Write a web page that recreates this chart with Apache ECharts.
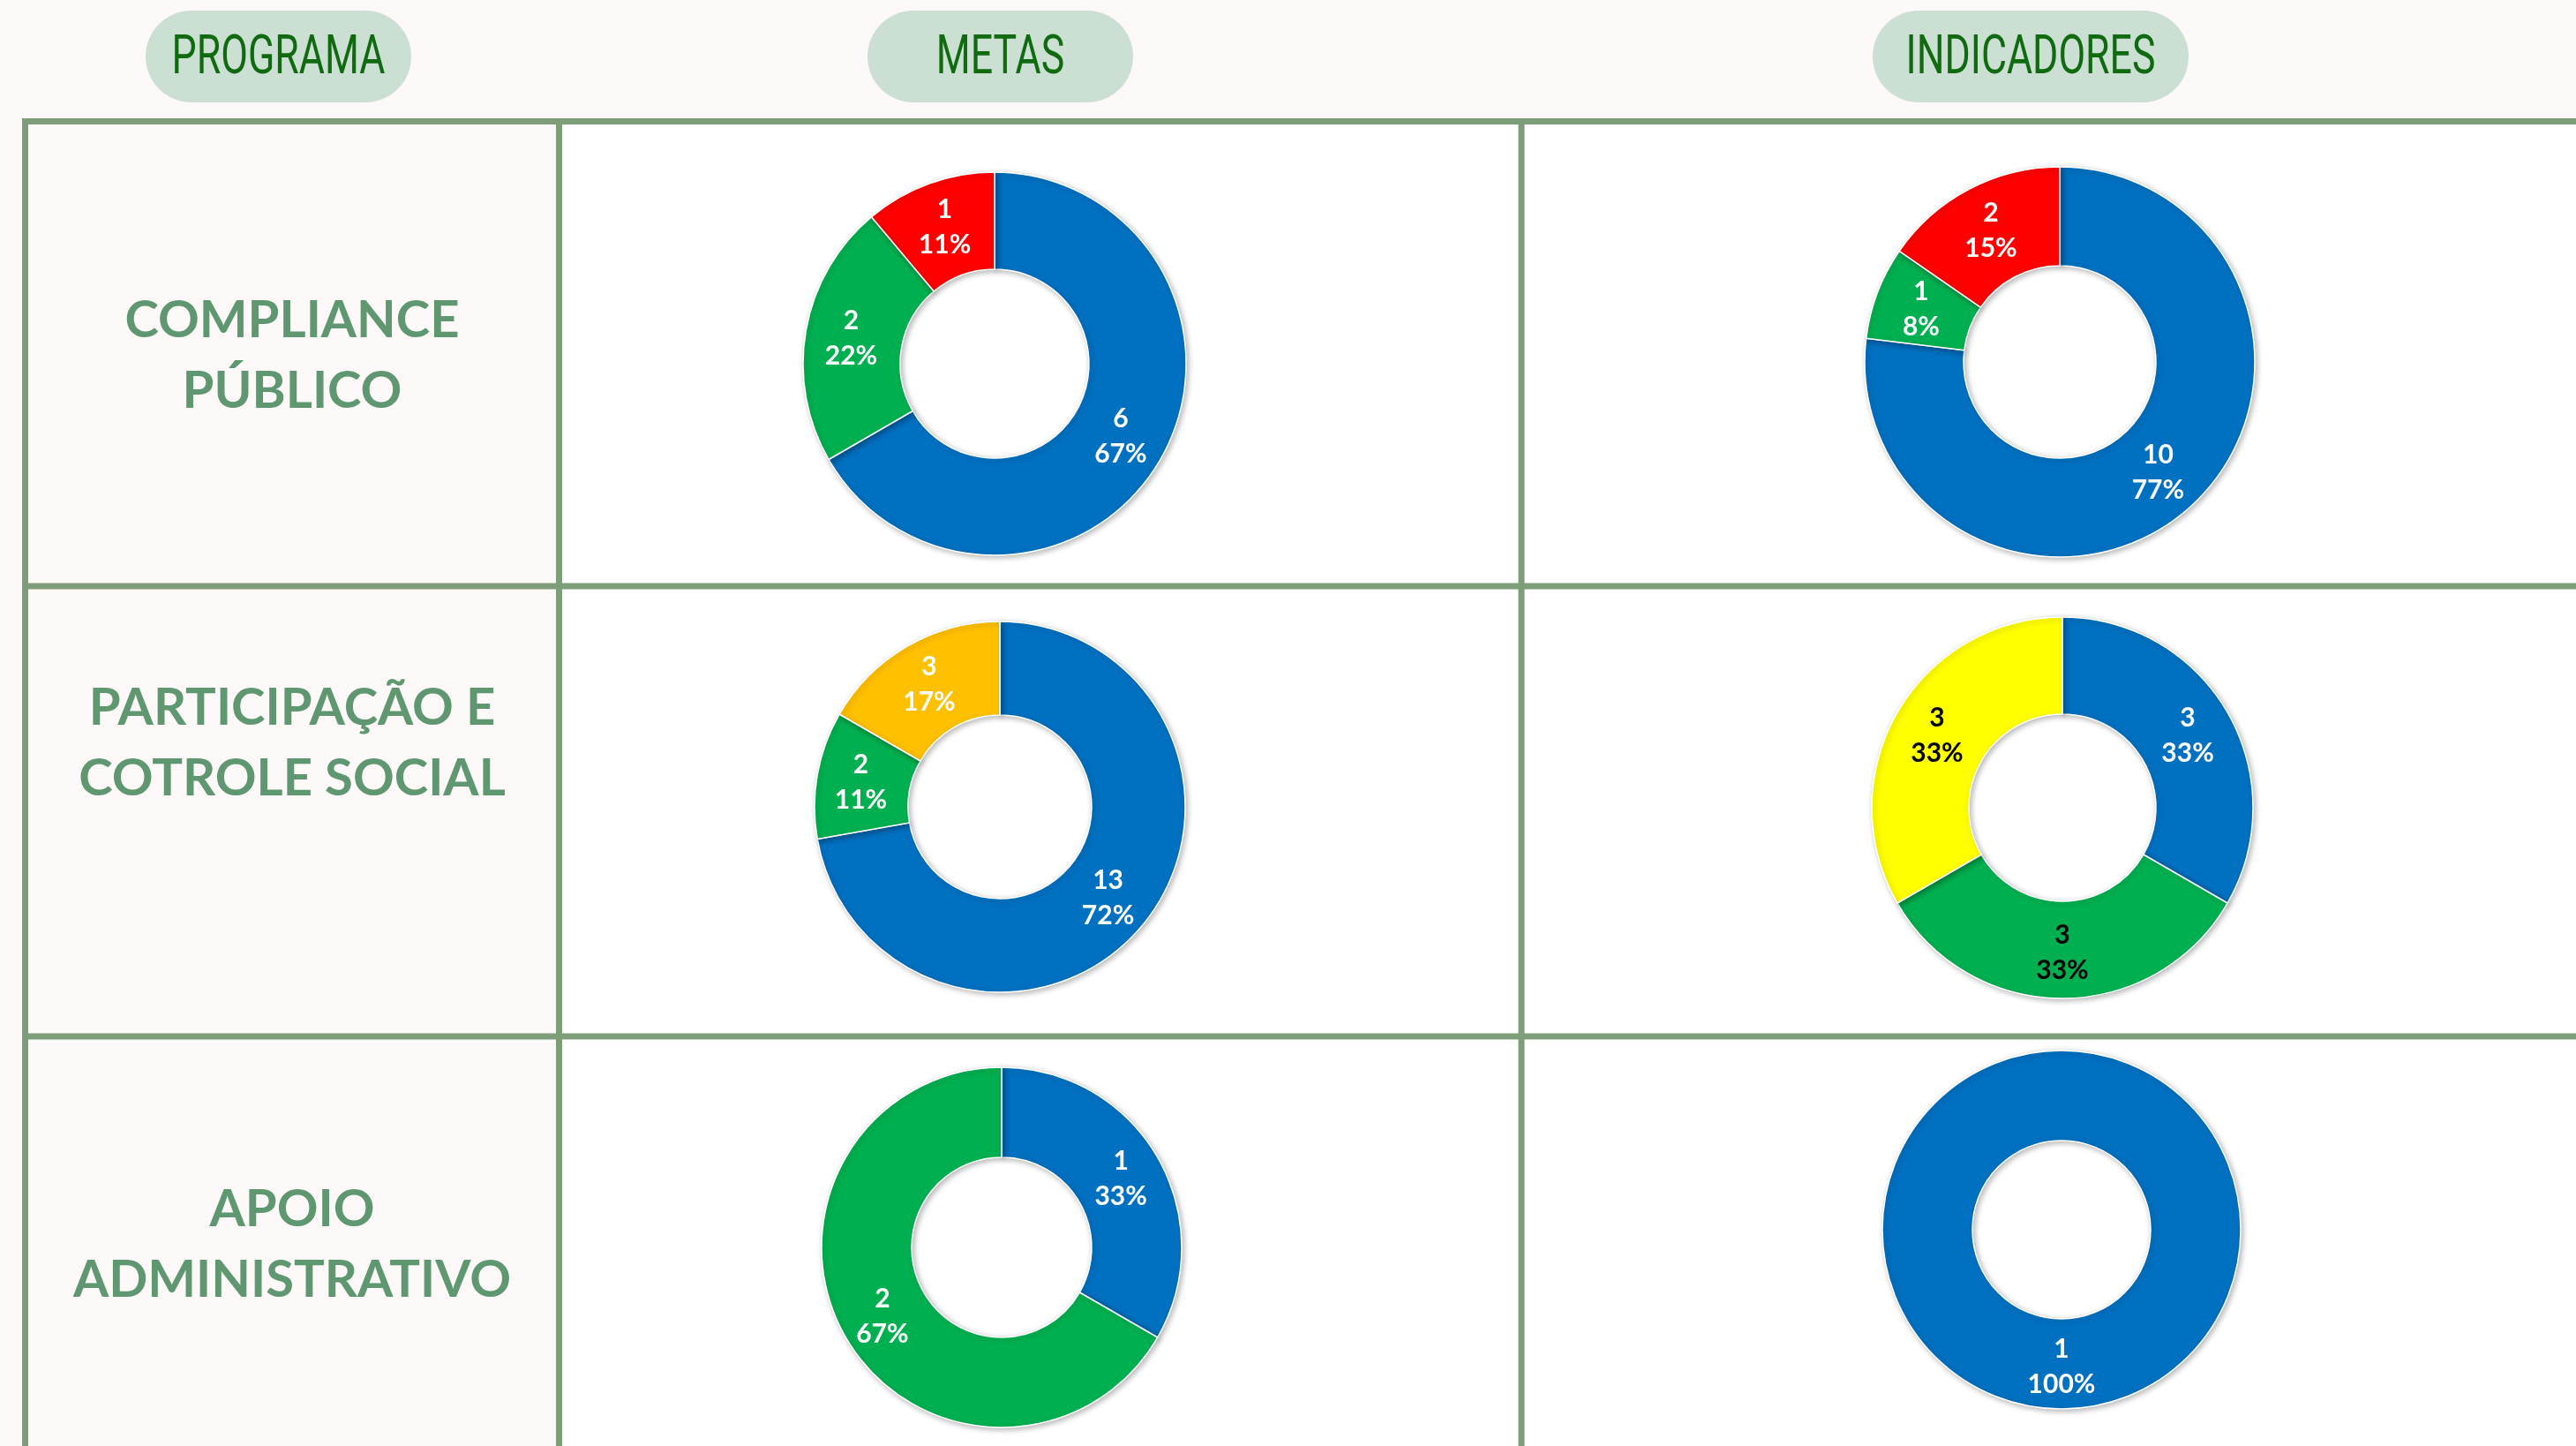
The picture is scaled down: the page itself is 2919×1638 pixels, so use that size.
<!DOCTYPE html>
<html>
<head>
<meta charset="utf-8">
<script src="https://cdn.jsdelivr.net/npm/echarts@6/dist/echarts.min.js"></script>
<style>
html, body { margin: 0; padding: 0; background: #fdf9f8; }
#chart { width: 2919px; height: 1638px; }
</style>
</head>
<body>
<div id="chart"></div>
<script>
// textos da tabela
const cabecalhos = ['PROGRAMA', 'METAS', 'INDICADORES'];
const programas = ['COMPLIANCE\nPÚBLICO', 'PARTICIPAÇÃO E\nCOTROLE SOCIAL', 'APOIO\nADMINISTRATIVO'];

// rosquinhas das metas (sentido horário a partir do topo)
const metasNomes = [['azul', 'verde', 'vermelho'], ['azul', 'verde', 'laranja'], ['azul', 'verde']];
const metasValores = [[6, 2, 1], [13, 2, 3], [1, 2]];

// rosquinhas dos indicadores
const indicadoresNomes = [['azul', 'verde', 'vermelho'], ['azul', 'verde', 'amarelo'], ['azul']];
const indicadoresValores = [[10, 1, 2], [3, 3, 3], [1]];

// cores de cada situação
const cores = { azul: '#0070C0', verde: '#00B050', vermelho: '#FF0000', laranja: '#FFC000', amarelo: '#FFFF00' };
// cor do rótulo: no quadro de indicadores do 2º programa o texto é preto
const rotuloPreto = { 'ind-1-verde': true, 'ind-1-amarelo': true };

// posições (px) das linhas da tabela e das rosquinhas
const layout = {
  linhasH: [137.5, 664, 1174],
  linhasV: [28.5, 633.5, 1724],
  espessura: 7,
  pilulas: [
    { x: 165, w: 301 },
    { x: 983, w: 301 },
    { x: 2122, w: 358 }
  ],
  textoPrograma: [403, 842, 1410],
  metas: [
    { c: [1127, 412], r: [107, 217] },
    { c: [1133, 914], r: [104, 210] },
    { c: [1135, 1413], r: [102, 204] }
  ],
  indicadores: [
    { c: [2334, 410], r: [109, 221] },
    { c: [2337, 915], r: [106, 216] },
    { c: [2336, 1393], r: [101, 203] }
  ]
};

var chart = echarts.init(document.getElementById('chart'));

function rosca(id, nomes, valores, pos) {
  return {
    type: 'pie',
    silent: true,
    animation: false,
    center: pos.c,
    radius: pos.r,
    startAngle: 90,
    clockwise: true,
    avoidLabelOverlap: false,
    labelLine: { show: false },
    itemStyle: {
      borderColor: '#ffffff',
      borderWidth: 1.5,
      shadowBlur: 6,
      shadowOffsetX: 2,
      shadowOffsetY: 2,
      shadowColor: 'rgba(0,0,0,0.28)'
    },
    label: {
      show: true,
      position: 'inside',
      fontFamily: 'Lato',
      fontWeight: 'bold',
      fontSize: 30,
      lineHeight: 40,
      formatter: function (p) {
        return p.value + '\n' + Math.round(p.percent) + '%';
      }
    },
    data: valores.map(function (v, i) {
      return {
        name: nomes[i],
        value: v,
        itemStyle: { color: cores[nomes[i]] },
        label: { color: rotuloPreto[id + '-' + nomes[i]] ? '#000000' : '#ffffff' }
      };
    })
  };
}

var series = [];
for (var i = 0; i < 3; i++) {
  series.push(rosca('met-' + i, metasNomes[i], metasValores[i], layout.metas[i]));
  series.push(rosca('ind-' + i, indicadoresNomes[i], indicadoresValores[i], layout.indicadores[i]));
}

// fundo, grade e textos
var graficos = [];
var ult = layout.linhasH[0];
graficos.push({
  type: 'rect', z: 0,
  shape: { x: layout.linhasV[1], y: ult, width: 2919 - layout.linhasV[1], height: 1638 - ult },
  style: { fill: '#ffffff' }
});
layout.linhasH.forEach(function (y) {
  graficos.push({
    type: 'rect', z: 1,
    shape: { x: layout.linhasV[0] - layout.espessura / 2, y: y - layout.espessura / 2, width: 2919, height: layout.espessura },
    style: { fill: '#7d9e78' }
  });
});
layout.linhasV.forEach(function (x) {
  graficos.push({
    type: 'rect', z: 1,
    shape: { x: x - layout.espessura / 2, y: layout.linhasH[0] - layout.espessura / 2, width: layout.espessura, height: 1638 },
    style: { fill: '#7d9e78' }
  });
});
cabecalhos.forEach(function (t, i) {
  var p = layout.pilulas[i];
  graficos.push({
    type: 'rect', z: 1,
    shape: { x: p.x, y: 12, width: p.w, height: 104, r: 52 },
    style: { fill: '#cbdfd3' }
  });
  graficos.push({
    type: 'text', z: 2,
    x: p.x + p.w / 2, y: 67, scaleX: 0.72,
    style: {
      text: t, fill: '#0f6a10',
      fontFamily: 'Roboto', fontSize: 62, fontWeight: 'normal',
      align: 'center', verticalAlign: 'middle'
    }
  });
});
programas.forEach(function (t, i) {
  graficos.push({
    type: 'text', z: 2,
    x: (layout.linhasV[0] + layout.linhasV[1]) / 2, y: layout.textoPrograma[i],
    style: {
      text: t, fill: '#5f9770',
      fontFamily: 'Lato', fontSize: 58, fontWeight: 'bold', lineHeight: 80,
      align: 'center', verticalAlign: 'middle'
    }
  });
});

var option = {
  backgroundColor: '#fdf9f8',
  animation: false,
  graphic: graficos,
  series: series
};

chart.setOption(option);
</script>
</body>
</html>
